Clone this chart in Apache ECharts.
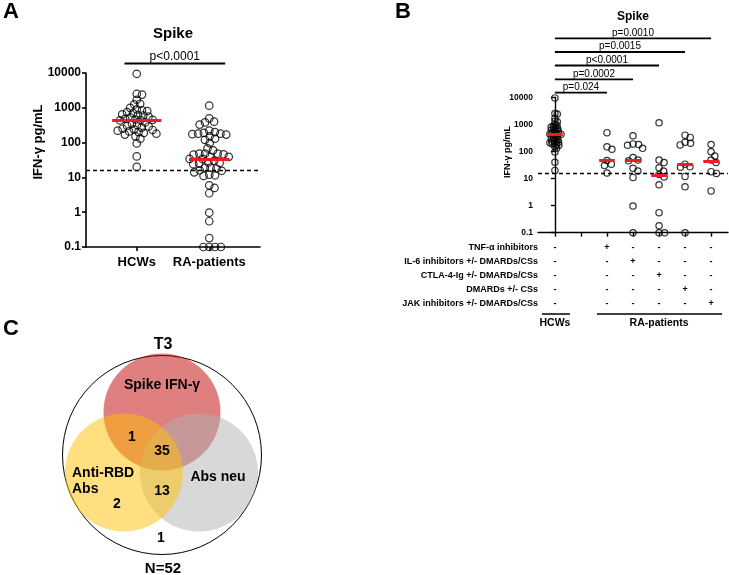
<!DOCTYPE html>
<html><head><meta charset="utf-8">
<script src="https://cdn.jsdelivr.net/npm/echarts@6/dist/echarts.min.js"></script>
<style>html,body{margin:0;padding:0;background:#fff}#c{width:729px;height:575px}</style>
</head><body><div id="c"></div>
<script>
// ---------------- DATA ----------------
const categoriesA = ['HCWs', 'RA-patients'];
const hcwValues = [9500, 2500, 2400, 1700, 1300, 1250, 1000, 900, 850, 800, 750, 700, 650, 620, 600, 560, 520, 480, 460, 450, 445, 435, 380, 350, 320, 300, 290, 270, 250, 240, 230, 220, 210, 200, 190, 180, 170, 150, 130, 95, 40, 20];
const tnfValues = [495, 150, 120, 46, 34, 30, 16];
const il6Values = [380, 190, 180, 170, 130, 60, 48, 45, 24, 19, 11, 0.97, 0.1];
const ctlaValues = [1150, 48, 39, 25, 19, 14, 11.5, 5.9, 0.55, 0.18, 0.1, 0.1];
const dmardValues = [400, 330, 220, 200, 175, 34, 27, 26, 12, 5, 0.1];
const jakValues = [180, 97, 68, 48, 39, 18, 15.5, 3.5];
const raValues = tnfValues.concat(il6Values, ctlaValues, dmardValues, jakValues);
const yTickValues = [0.1, 1, 10, 100, 1000, 10000];
const detectionLimit = 16;
const pValueA = 'p<0.0001';
const groupPosB = [0, 2, 3, 4, 5, 6];
const treatmentRows = ['TNF-α inhibitors', 'IL-6 inhibitors +/- DMARDs/CSs', 'CTLA-4-Ig +/- DMARDs/CSs', 'DMARDs +/- CSs', 'JAK inhibitors +/- DMARDs/CSs'];
const pValuesB = ['p=0.024', 'p=0.0002', 'p<0.0001', 'p=0.0015', 'p=0.0010'];
const populationLabels = ['HCWs', 'RA-patients'];
const vennSetLabels = ['Spike IFN-γ', 'Anti-RBD\nAbs', 'Abs neu'];
const vennRegionCounts = [1, 35, 13, 2, 1]; // spike∩rbd, all three, rbd∩neu, rbd only, none
const vennTitle = 'T3';
const vennTotal = 'N=52';
const panelTitle = 'Spike';
const yAxisTitle = 'IFN-γ pg/mL';

// ---------------- HELPERS ----------------
const FONT = '"Liberation Sans", Arial, sans-serif';
function median(arr) {
  const s = arr.slice().sort((a, b) => a - b);
  const n = s.length;
  return n % 2 ? s[(n - 1) / 2] : (s[n / 2 - 1] + s[n / 2]) / 2;
}
// beeswarm: returns x offsets (axis units) for each value
function swarm(values, pxPerUnit, pxPerDecade, diam) {
  const order = values.map((v, i) => i).sort((a, b) => values[b] - values[a]);
  const placed = [];
  const off = new Array(values.length).fill(0);
  order.forEach(i => {
    const y = Math.log10(values[i]) * pxPerDecade;
    const ivs = [];
    placed.forEach(p => {
      const dy = Math.abs(p.y - y);
      if (dy < diam) {
        const h = Math.sqrt(diam * diam - dy * dy);
        ivs.push([p.x - h, p.x + h]);
      }
    });
    const cands = [0];
    ivs.forEach(iv => { cands.push(iv[0], iv[1]); });
    cands.sort((a, b) => Math.abs(a) - Math.abs(b) || b - a);
    let x = 0;
    for (const c of cands) {
      if (!ivs.some(iv => c > iv[0] + 1e-6 && c < iv[1] - 1e-6)) { x = c; break; }
    }
    placed.push({ x, y });
    off[i] = x / pxPerUnit;
  });
  return off;
}

// ---------------- LAYOUT ----------------
const gA = { left: 86, top: 73, width: 174, height: 174, xmin: 0.3, xmax: 2.7 };
const gB = { left: 538, top: 97.3, width: 190, height: 135.4, xmin: -0.65, xmax: 6.65 };
const pxUnitA = gA.width / (gA.xmax - gA.xmin), pxDecA = gA.height / 5;
const pxUnitB = gB.width / (gB.xmax - gB.xmin), pxDecB = gB.height / 5;

const RED = '#ee1c25';
function medLine(c, vals, half) {
  const m = median(vals);
  return [{ coord: [c - half, m], lineStyle: { color: RED, width: 3, type: 'solid' } }, { coord: [c + half, m] }];
}
const dashedItem = { yAxis: detectionLimit, lineStyle: { color: '#000', width: 1.3, type: [4, 3] } };

function yAxisCfg(gi, fontSize, tickLen, margin, lw) {
  return {
    type: 'log', logBase: 10, min: yTickValues[0], max: yTickValues[yTickValues.length - 1], gridIndex: gi,
    splitLine: { show: false }, minorTick: { show: false },
    axisLine: { show: true, lineStyle: { color: '#000', width: lw } },
    axisTick: { show: true, length: tickLen, lineStyle: { color: '#000', width: lw } },
    axisLabel: { show: true, color: '#000', fontFamily: FONT, fontWeight: 'bold', fontSize: fontSize, margin: margin,
      formatter: v => String(+(+v).toPrecision(3)) }
  };
}

const hcwOffA = swarm(hcwValues, pxUnitA, pxDecA, 5.3);
const raOffA = swarm(raValues, pxUnitA, pxDecA, 5.8);
const groupsB = [hcwValues, tnfValues, il6Values, ctlaValues, dmardValues, jakValues];

const symbolStyle = { color: 'rgba(0,0,0,0)', borderColor: '#000', borderWidth: 1.2 };
const series = [
  { type: 'scatter', xAxisIndex: 0, yAxisIndex: 0, symbol: 'circle', symbolSize: 7.5, itemStyle: symbolStyle, silent: true,
    data: hcwValues.map((v, i) => [1 + hcwOffA[i], v]),
    markLine: { silent: true, symbol: ['none', 'none'], label: { show: false }, animation: false, data: [medLine(1, hcwValues, 0.34), dashedItem] } },
  { type: 'scatter', xAxisIndex: 0, yAxisIndex: 0, symbol: 'circle', symbolSize: 7.5, itemStyle: symbolStyle, silent: true,
    data: raValues.map((v, i) => [2 + raOffA[i], v]),
    markLine: { silent: true, symbol: ['none', 'none'], label: { show: false }, animation: false, data: [medLine(2, raValues, 0.28)] } }
];
groupsB.forEach((vals, g) => {
  const off = swarm(vals, pxUnitB, pxDecB, g === 0 ? 2.4 : 5.6);
  const c = groupPosB[g];
  const ml = [medLine(c, vals, 0.3)];
  if (g === 0) ml.push(dashedItem);
  series.push({ type: 'scatter', xAxisIndex: 1, yAxisIndex: 1, symbol: 'circle', symbolSize: 6.3, itemStyle: symbolStyle, silent: true,
    data: vals.map((v, i) => [c + off[i], v]),
    markLine: { silent: true, symbol: ['none', 'none'], label: { show: false }, animation: false, data: ml } });
});

const option = {
  animation: false,
  backgroundColor: '#fff',
  grid: [
    { left: gA.left, top: gA.top, width: gA.width, height: gA.height },
    { left: gB.left, top: gB.top, width: gB.width, height: gB.height }
  ],
  xAxis: [
    { type: 'value', gridIndex: 0, min: gA.xmin, max: gA.xmax, splitLine: { show: false },
      axisLine: { onZero: false, lineStyle: { color: '#000', width: 1.6 } },
      axisTick: { show: true, customValues: [1, 2], length: 4, lineStyle: { color: '#000', width: 1.6 } },
      axisLabel: { show: true, customValues: [1, 2], formatter: v => categoriesA[Math.round(v) - 1], color: '#000', fontFamily: FONT, fontWeight: 'bold', fontSize: 13, margin: 9 } },
    { type: 'value', gridIndex: 1, min: gB.xmin, max: gB.xmax, splitLine: { show: false },
      axisLine: { onZero: false, lineStyle: { color: '#000', width: 1.4 } },
      axisTick: { show: true, customValues: [0, 1, 2, 3, 4, 5, 6], length: 4, lineStyle: { color: '#000', width: 1.4 } },
      axisLabel: { show: false } }
  ],
  yAxis: [yAxisCfg(0, 12, 4, 5, 1.6), yAxisCfg(1, 8.5, 4, 5, 1.4)],
  series: series
};

const chart = echarts.init(document.getElementById('c'), null, { renderer: 'canvas' });
chart.setOption(option);

// ---------------- ANNOTATIONS ----------------
const xA = v => chart.convertToPixel({ xAxisIndex: 0 }, v);
const xB = v => chart.convertToPixel({ xAxisIndex: 1 }, v);
const els = [];
function txt(t, x, y, size, bold, align, rot) {
  els.push({ type: 'text', x: x, y: y, rotation: rot || 0, silent: true, z: 100,
    style: { text: t, x: 0, y: 0, fill: '#000', font: (bold ? 'bold ' : '') + size + 'px ' + FONT,
      align: align || 'center', verticalAlign: 'middle', textAlign: align || 'center', textVerticalAlign: 'middle' } });
}
function seg(x1, y1, x2, y2, w) {
  els.push({ type: 'line', silent: true, z: 100, shape: { x1, y1, x2, y2 }, style: { stroke: '#000', lineWidth: w } });
}
// panel letters
txt('A', 11, 12, 22, true);
txt('B', 403, 12, 22, true);
txt('C', 11, 329, 22, true);
// panel A
txt(panelTitle, (xA(gA.xmin) + xA(gA.xmax)) / 2, 34, 15, true);
seg(xA(0.83), 63.5, xA(2.22), 63.5, 2);
txt(pValueA, (xA(0.83) + xA(2.22)) / 2, 57, 12, false);
txt(yAxisTitle, 38, 142, 13, true, 'center', Math.PI / 2);
// panel B
txt(panelTitle, xB(3), 17, 12, true);
const levels = [92.7, 79.3, 65.5, 52, 38.3];
pValuesB.forEach((p, k) => {
  const x1 = xB(0), x2 = xB(groupPosB[k + 1]);
  seg(x1, levels[k], x2, levels[k], 1.8);
  txt(p, (x1 + x2) / 2, levels[k] - 5.5, 10, false);
});
txt(yAxisTitle, 508, 152, 9, true, 'center', Math.PI / 2);
const rowY = [247.5, 261.5, 275.5, 289.5, 303.5];
treatmentRows.forEach((r, k) => {
  txt(r, 538, rowY[k], 9, true, 'right');
  groupPosB.forEach((c, g) => {
    txt(g === k + 1 ? '+' : '-', xB(c), rowY[k], 9, true);
  });
});
seg(xB(0) - 13, 314, xB(0) + 15, 314, 1.5);
seg(xB(2) - 10, 314, xB(6) + 11, 314, 1.5);
txt(populationLabels[0], xB(0), 323.5, 10.5, true);
txt(populationLabels[1], (xB(2) + xB(6)) / 2, 323.5, 10.5, true);
// panel C Venn
els.push({ type: 'circle', silent: true, z: 50, shape: { cx: 162, cy: 455, r: 99.5 }, style: { fill: 'none', stroke: '#000', lineWidth: 1 } });
els.push({ type: 'circle', silent: true, z: 51, shape: { cx: 162, cy: 412, r: 58.5 }, style: { fill: '#c00000', opacity: 0.5 } });
els.push({ type: 'circle', silent: true, z: 52, shape: { cx: 199, cy: 472.5, r: 59 }, style: { fill: '#b2b2b2', opacity: 0.5 } });
els.push({ type: 'circle', silent: true, z: 53, shape: { cx: 124, cy: 472.5, r: 59 }, style: { fill: '#ffc000', opacity: 0.5 } });
txt(vennTitle, 163, 345, 16, true);
txt(vennTotal, 163, 569, 15, true);
txt(vennSetLabels[0], 162, 385, 14, true);
txt(vennSetLabels[1].split('\n')[0], 72, 473, 14, true, 'left');
txt(vennSetLabels[1].split('\n')[1], 72, 489.5, 14, true, 'left');
txt(vennSetLabels[2], 218, 477, 14, true);
txt(String(vennRegionCounts[0]), 132, 437, 14, true);
txt(String(vennRegionCounts[1]), 162, 451, 14, true);
txt(String(vennRegionCounts[2]), 162, 491, 14, true);
txt(String(vennRegionCounts[3]), 117, 504, 14, true);
txt(String(vennRegionCounts[4]), 161, 538, 14, true);

chart.setOption({ graphic: { elements: els } });
</script>
</body></html>
